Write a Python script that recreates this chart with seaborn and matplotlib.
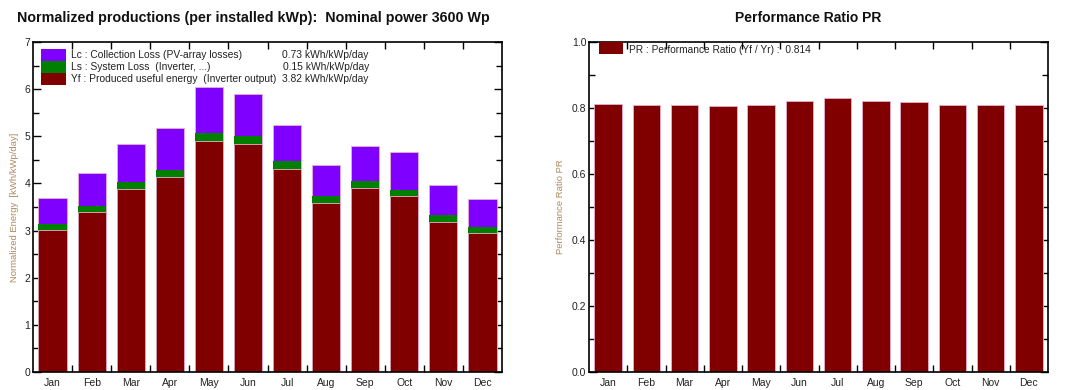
import matplotlib
matplotlib.use("Agg")
import matplotlib.pyplot as plt
from matplotlib.patches import Rectangle
from matplotlib.ticker import MultipleLocator
import numpy as np
import seaborn as sns

# Data
months = ['Jan', 'Feb', 'Mar', 'Apr', 'May', 'Jun', 'Jul', 'Aug', 'Sep', 'Oct', 'Nov', 'Dec']
yf = [3.01, 3.39, 3.88, 4.14, 4.89, 4.83, 4.31, 3.59, 3.91, 3.74, 3.18, 2.95]
ls = [0.12, 0.13, 0.14, 0.14, 0.17, 0.17, 0.17, 0.15, 0.14, 0.13, 0.15, 0.12]
lc = [0.57, 0.70, 0.81, 0.89, 0.98, 0.89, 0.76, 0.65, 0.75, 0.79, 0.63, 0.61]
pr = [0.813, 0.809, 0.809, 0.805, 0.809, 0.821, 0.830, 0.821, 0.817, 0.809, 0.809, 0.809]

legend_labels = ['Lc : Collection Loss (PV-array losses)',
                 'Ls : System Loss  (Inverter, ...)',
                 'Yf : Produced useful energy  (Inverter output)']
legend_values = ['0.73 kWh/kWp/day', '0.15 kWh/kWp/day', '3.82 kWh/kWp/day']
pr_label = 'PR : Performance Ratio (Yf / Yr) :  0.814'

c_lc, c_ls, c_yf = '#8000ff', '#008000', '#800000'
edge = '#e8b0d0'
lab_col = '#b08860'

sns.set_style("ticks")
plt.rcParams['font.family'] = ['Liberation Sans', 'DejaVu Sans']

fig = plt.figure(figsize=(10.65, 3.9), dpi=100)
ax1 = fig.add_axes([33 / 1065, 1 - 372 / 390, 469 / 1065, 330 / 390])
ax2 = fig.add_axes([589 / 1065, 1 - 372 / 390, 459 / 1065, 330 / 390])

# stacked bars: draw totals first, then cover
yf_a = np.array(yf)
ls_top = yf_a + np.array(ls)
total = ls_top + np.array(lc)
bw = 0.72
sns.barplot(x=months, y=total, color=c_lc, width=bw, saturation=1, edgecolor=edge, linewidth=0.6, ax=ax1)
sns.barplot(x=months, y=ls_top, color=c_ls, width=bw, saturation=1, linewidth=0, ax=ax1)
sns.barplot(x=months, y=yf, color=c_yf, width=bw, saturation=1, edgecolor=edge, linewidth=0.6, ax=ax1)

sns.barplot(x=months, y=pr, color=c_yf, width=bw, saturation=1, edgecolor=edge, linewidth=0.6, ax=ax2)

for ax, ymax, major, minor, fmt in [(ax1, 7, 1, 0.5, '%d'), (ax2, 1.0, 0.2, 0.1, '%.1f')]:
    ax.set_xlim(-0.5, 11.5)
    ax.set_ylim(0, ymax)
    ax.yaxis.set_major_locator(MultipleLocator(major))
    ax.yaxis.set_minor_locator(MultipleLocator(minor))
    ax.yaxis.set_major_formatter(matplotlib.ticker.FormatStrFormatter(fmt))
    ax.set_xticks(range(12))
    ax.set_xticklabels(months)
    ax.set_xticks(np.arange(0.5, 11, 1), minor=True)
    ax.tick_params(axis='x', which='major', length=0, labelsize=7.5, colors='#222222', pad=4)
    ax.tick_params(axis='x', which='minor', direction='in', length=5, width=1, top=True, bottom=True)
    ax.tick_params(axis='y', which='major', direction='in', length=6, width=1, left=True, right=True,
                   labelsize=7.5, colors='#222222', pad=2)
    ax.tick_params(axis='y', which='minor', direction='in', length=4, width=1, left=True, right=True)
    ax.tick_params(axis='both', which='both', color='black')
    for s in ax.spines.values():
        s.set_visible(True)
        s.set_linewidth(1.2)
        s.set_color('black')
    ax.set_xlabel('')

ax1.set_ylabel('Normalized Energy  [kWh/kWp/day]', fontsize=6.8, color=lab_col, labelpad=4)
ax2.set_ylabel('Performance Ratio PR', fontsize=6.8, color=lab_col, labelpad=5)

# legend of the left chart
for i, (col, lab, val) in enumerate(zip([c_lc, c_ls, c_yf], legend_labels, legend_values)):
    y0 = 0.942 - i * 0.0365
    ax1.add_patch(Rectangle((0.017, y0), 0.053, 0.0365, transform=ax1.transAxes,
                            facecolor=col, edgecolor='none', zorder=5))
    ax1.text(0.081, y0 + 0.018, lab, transform=ax1.transAxes, fontsize=7.4,
             va='center', ha='left', color='#222222', zorder=5)
    ax1.text(0.716, y0 + 0.018, val, transform=ax1.transAxes, fontsize=7.4,
             va='center', ha='right', color='#222222', zorder=5)

ax2.add_patch(Rectangle((0.022, 0.964), 0.052, 0.036, transform=ax2.transAxes,
                        facecolor=c_yf, edgecolor='none', zorder=5))
ax2.text(0.087, 0.976, pr_label, transform=ax2.transAxes, fontsize=7.3,
         va='center', ha='left', color='#222222', zorder=5)

fig.text(17 / 1065, 1 - 18 / 390, 'Normalized productions (per installed kWp):  Nominal power 3600 Wp',
         fontsize=10.25, fontweight='bold', ha='left', va='center', color='#111111')
fig.text(808 / 1065, 1 - 18 / 390, 'Performance Ratio PR',
         fontsize=10, fontweight='bold', ha='center', va='center', color='#111111')

fig.savefig('out.png', dpi=100)
